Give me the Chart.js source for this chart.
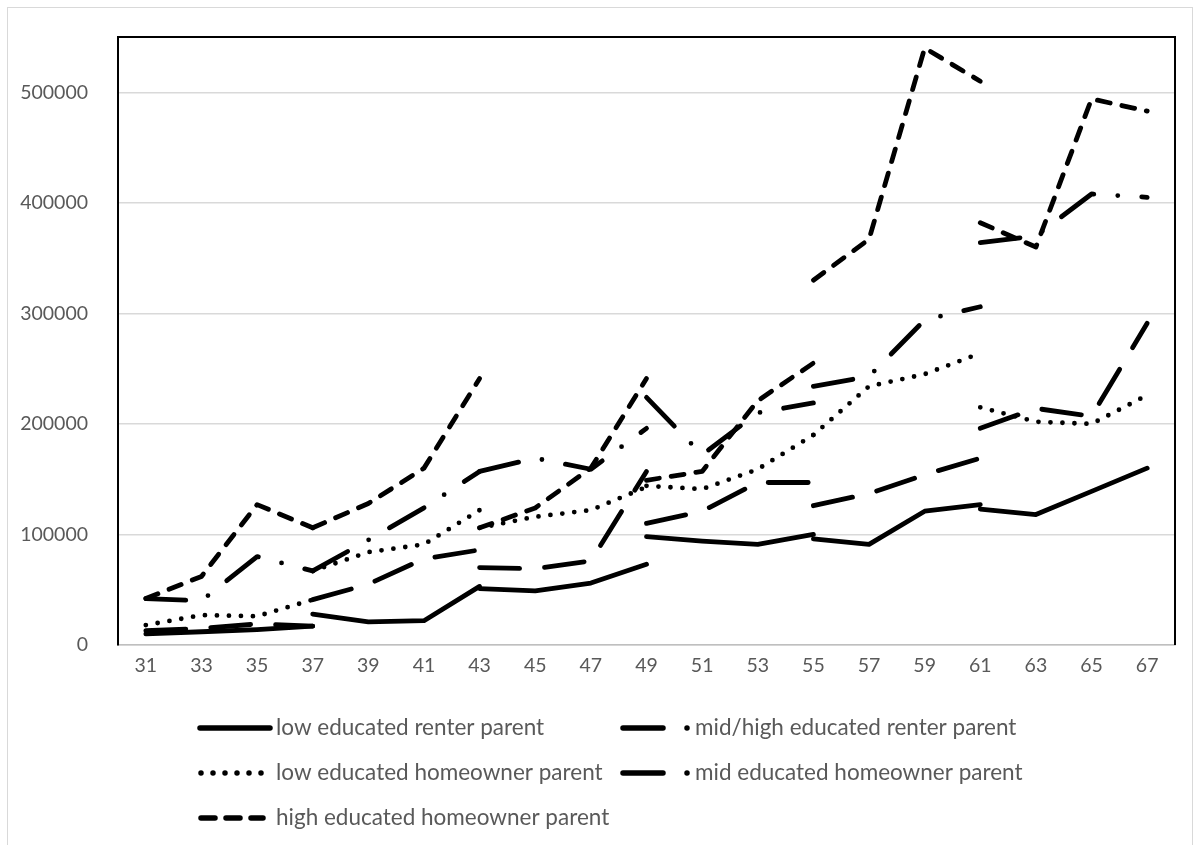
<!DOCTYPE html>
<html>
<head>
<meta charset="utf-8">
<title>Wealth by age and parental background</title>
<script src="https://cdn.jsdelivr.net/npm/chart.js@4.4.0/dist/chart.umd.min.js"></script>
<style>
  html, body { margin: 0; padding: 0; background: #fff; }
  #wrap { width: 1203px; height: 845px; }
</style>
</head>
<body>
<div id="wrap"><canvas id="chart" width="1203" height="845"></canvas></div>
<script>
// Age categories on the x axis
const ages = ['31', '33', '35', '37', '39', '41', '43', '45', '47', '49',
              '51', '53', '55', '57', '59', '61', '63', '65', '67'];

// Every group is drawn as 6 cohorts of 4 points each.
// Cohort k covers ages[3k] .. ages[3k+3], so cohorts share their end ages.
const lowRenter = [
    [10000, 12000, 14000, 17000],
    [28000, 21000, 22000, 53000],
    [51000, 49000, 56000, 73000],
    [98000, 94000, 91000, 100000],
    [96000, 91000, 121000, 127000],
    [123000, 118000, 139000, 160000]
];

const midHighRenter = [
    [13000, 15000, 19000, 17000],
    [41000, 55000, 78000, 86000],
    [70000, 69000, 76000, 157000],
    [110000, 121000, 147000, 147000],
    [126000, 137000, 154000, 169000],
    [196000, 214000, 207000, 291000]
];

const lowHomeowner = [
    [18000, 27000, 26000, 41000],
    [67000, 84000, 91000, 122000],
    [106000, 116000, 122000, 143000],
    [144000, 141000, 159000, 190000],
    [190000, 234000, 245000, 264000],
    [215000, 202000, 200000, 226000]
];

const midHomeowner = [
    [42000, 40000, 80000, 67000],
    [67000, 95000, 124000, 157000],
    [157000, 169000, 159000, 196000],
    [224000, 172000, 210000, 219000],
    [234000, 243000, 294000, 306000],
    [364000, 370000, 408000, 405000]
];

const highHomeowner = [
    [42000, 62000, 127000, 106000],
    [106000, 128000, 160000, 241000],
    [106000, 124000, 160000, 241000],
    [149000, 157000, 221000, 255000],
    [330000, 367000, 540000, 510000],
    [382000, 360000, 494000, 483000]
];

const yTicks = [0, 100000, 200000, 300000, 400000, 500000];

const textColor = '#595959';
const fontFamily = 'Lato, "Open Sans", sans-serif';

// line style per group (chart line and the little legend sample)
const groups = [
    { label: 'low educated renter parent', data: lowRenter, dash: [],
      legend: { col: 0, row: 0, dash: [], from: 200, to: 270 } },
    { label: 'mid/high educated renter parent', data: midHighRenter, dash: [40, 25],
      legend: { col: 1, row: 0, dash: [40, 24, 0, 60], from: 623, to: 688 } },
    { label: 'low educated homeowner parent', data: lowHomeowner, dash: [0, 12],
      legend: { col: 0, row: 1, dash: [0, 12], from: 201, to: 262 } },
    { label: 'mid educated homeowner parent', data: midHomeowner, dash: [40, 24, 0, 24],
      legend: { col: 1, row: 1, dash: [40, 24, 0, 60], from: 623, to: 688 } },
    { label: 'high educated homeowner parent', data: highHomeowner, dash: [13, 12],
      legend: { col: 0, row: 2, dash: [14, 11], from: 201, to: 263 } }
];

function cohortRow(values, k) {
    const row = ages.map(() => null);
    values.forEach((v, j) => { row[3 * k + j] = v; });
    return row;
}

const datasets = [];
groups.forEach(g => {
    g.data.forEach((cohort, k) => {
        datasets.push({
            label: g.label,
            data: cohortRow(cohort, k),
            borderColor: '#000',
            borderWidth: 4.8,
            borderDash: g.dash,
            borderCapStyle: 'round',
            borderJoinStyle: 'round',
            pointRadius: 0,
            fill: false,
            tension: 0,
            spanGaps: false
        });
    });
});

// black frame around the plot area + thin outer chart border
const framePlugin = {
    id: 'frame',
    beforeDraw(chart) {
        const ctx = chart.ctx;
        ctx.save();
        ctx.strokeStyle = '#d9d9d9';
        ctx.lineWidth = 1;
        ctx.strokeRect(7.5, 7.5, 1185, 900);
        ctx.restore();
    },
    afterDatasetsDraw(chart) {
        const a = chart.chartArea;
        const ctx = chart.ctx;
        ctx.save();
        ctx.strokeStyle = '#000';
        ctx.lineWidth = 2;
        ctx.beginPath();
        ctx.moveTo(a.left, a.bottom);
        ctx.lineTo(a.left, a.top);
        ctx.lineTo(a.right, a.top);
        ctx.lineTo(a.right, a.bottom);
        ctx.stroke();
        ctx.restore();
    }
};

// two column legend under the axis
const legendPlugin = {
    id: 'twoColLegend',
    afterDraw(chart) {
        const ctx = chart.ctx;
        const rowY = [728, 773, 818];
        const textX = [276, 695];
        ctx.save();
        groups.forEach(g => {
            const l = g.legend;
            const y = rowY[l.row];
            ctx.strokeStyle = '#000';
            ctx.lineWidth = 5.5;
            ctx.lineCap = 'round';
            ctx.setLineDash(l.dash);
            ctx.beginPath();
            ctx.moveTo(l.from, y);
            ctx.lineTo(l.to, y);
            ctx.stroke();

            ctx.setLineDash([]);
            ctx.fillStyle = textColor;
            ctx.font = '22.5px ' + fontFamily;
            ctx.textAlign = 'left';
            ctx.textBaseline = 'middle';
            ctx.fillText(g.label, textX[l.col], y);
        });
        ctx.restore();
    }
};

new Chart(document.getElementById('chart'), {
    type: 'line',
    data: { labels: ages, datasets: datasets },
    options: {
        responsive: false,
        animation: false,
        devicePixelRatio: 1,
        layout: { padding: { top: 37, right: 28, left: 0, bottom: 0 } },
        plugins: {
            legend: { display: false },
            tooltip: { enabled: false }
        },
        scales: {
            x: {
                offset: true,
                grid: { display: false, drawTicks: false },
                border: { color: '#bfbfbf', width: 1.5 },
                ticks: {
                    color: textColor,
                    font: { family: fontFamily, size: 19.5 },
                    padding: 9,
                    maxRotation: 0,
                    autoSkip: false
                },
                afterFit(scale) { scale.height = 200; }
            },
            y: {
                min: 0,
                max: 550000,
                grid: { color: '#d9d9d9', lineWidth: 1.5, drawTicks: false },
                border: { color: '#000', width: 2 },
                ticks: {
                    color: textColor,
                    font: { family: fontFamily, size: 19.5 },
                    padding: 30,
                    callback: value => String(value)
                },
                afterBuildTicks(scale) {
                    scale.ticks = yTicks.map(v => ({ value: v }));
                },
                afterFit(scale) {
                    scale.width = 118;
                    // label padding would otherwise push the plot top down
                    scale.paddingTop = 0;
                    scale.paddingBottom = 0;
                }
            }
        }
    },
    plugins: [framePlugin, legendPlugin]
});
</script>
</body>
</html>
